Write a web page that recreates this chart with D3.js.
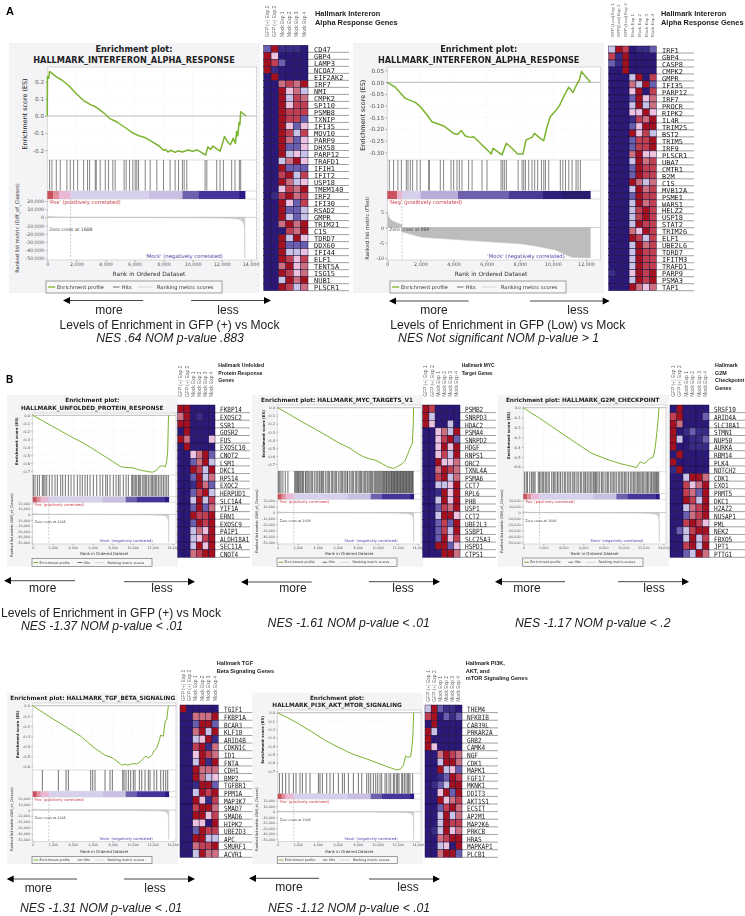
<!DOCTYPE html>
<html><head><meta charset="utf-8">
<script src="https://cdn.jsdelivr.net/npm/d3@7"></script>
<style>html,body{margin:0;padding:0;background:#fff}svg{display:block;filter:blur(.3px)}</style>
</head><body><svg id="c" width="745" height="916"></svg>
<script>
/* ---------- DATA ---------- */
const rankTicks=[0,2000,4000,6000,8000,10000,12000,14000];
const rankTicksA2=[0,2000,4000,6000,8000,10000,12000];
const metricTicks=[20000,10000,0,-10000,-20000,-30000,-40000,-50000];
const metricTicksA2=[5,0,-5,-10];
const colsPlus=["GFP (+) Exp 1","GFP (+) Exp 2","Mock Exp 1","Mock Exp 2","Mock Exp 3","Mock Exp 4"];
const colsLow=["GFP (Low) Exp 1","GFP(Low) Exp 2","GFP (Low) Exp 3","Mock Exp 1","Mock Exp 2","Mock Exp 3","Mock Exp 4"];
const heatLevels=[0,1,2,3,4,5,6,7];
const heatColors=["#2b1878","#382c88","#6a5eae","#c8c2e6","#ecc2de","#cc7080","#c03f50","#a5101f"];

const esA1=[[0,0],[10,.23],[100,.22],[150,.26],[300,.25],[600,.23],[1000,.21],[1500,.175],[2000,.13],[2500,.09],[3000,.065],[3300,.055],[3700,.03],[4000,.01],[4300,-.015],[4800,-.035],[5400,-.07],[5900,-.1],[6300,-.115],[6700,-.125],[7200,-.15],[7700,-.175],[8000,-.2],[8150,-.195],[8300,-.21],[8500,-.2],[8800,-.212],[9000,-.203],[9300,-.21],[9700,-.198],[10000,-.205],[10300,-.198],[10600,-.212],[10900,-.228],[11050,-.18],[11250,-.195],[11400,-.175],[11700,-.195],[11900,-.205],[12200,-.12],[12400,-.15],[12600,-.168],[12800,-.13],[12950,-.16],[13030,-.09],[13120,-.115],[13190,-.04],[13260,-.05],[13310,.025],[13680,0]];
const hitsA1=[160,320,620,890,1350,1580,1810,2090,2500,2770,2910,3300,3370,3640,3990,4210,4510,4670,5290,5430,5660,5890,6050,6160,6280,6740,7080,7540,8000,8450,8800,9030,9300,9420,9600,10860,10980,11660,11890,12120,12690,12920,13220,13310];
const metricA1=[[0,1800],[300,900],[1000,300],[1608,0],[6000,-200],[10000,-500],[12000,-900],[13000,-1800],[13300,-3000],[13500,-6500],[13570,-12000],[13600,-50000]];
const genesA1=["CD47","GBP4","LAMP3","NCOA7","EIF2AK2","IRF7","NMI","CMPK2","SP110","PSMB8","TXNIP","IFI35","MOV10","PARP9","DHX58","PARP12","TRAFD1","IFIH1","IFIT2","USP18","TMEM140","IRF2","IFI30","RSAD2","GMPR","TRIM21","C1S","TDRD7","DDX60","IFI44","ELF1","TENT5A","ISG15","NUB1","PLSCR1"];
const heatA1=["271110","740000","762000","710000","070000","005657","007453","007365","007466","007666","007662","007424","007636","007524","007224","007343","003574","007222","006736","007534","004657","016756","007426","007223","007323","005757","000657","007374","007222","007334","007646","005745","007645","003757","007635"];

const esA2=[[0,0],[483,-.021],[1088,-.069],[1692,-.086],[1994,-.104],[2397,-.14],[2699,-.169],[3404,-.187],[4008,-.219],[4270,-.223],[4471,-.207],[4713,-.23],[5015,-.236],[5217,-.233],[5619,-.261],[6284,-.307],[6385,-.283],[6727,-.3],[6928,-.311],[7190,-.261],[7432,-.276],[7875,-.307],[8197,-.307],[8379,-.247],[8741,-.236],[8882,-.219],[9245,-.24],[9446,-.25],[9648,-.19],[9849,-.147],[10111,-.126],[10393,-.101],[10654,-.061],[10956,-.021],[11218,-.044],[11359,-.021],[11601,.01],[11722,.046],[12266,0]];
const hitsA2=[120,380,640,850,1150,1250,1390,1530,1790,1990,2500,2540,3200,3400,3850,4010,4210,4350,4510,4910,5120,5720,6020,6870,6970,7070,7190,7900,8140,8240,8340,8540,8740,8900,9080,9310,9450,9550,9750,10450,10600,10760,10960,11160,11400,11520,11660];
const metricA2=[[0,6.2],[60,4],[150,3],[300,2.2],[600,1.5],[889,.9],[890,-1.5],[2095,-3.2],[5115,-4.3],[8136,-5.4],[9143,-6.3],[10150,-7.4],[11157,-9.8],[12266,-10]];
const genesA2=["IRF1","GBP4","CASP8","CMPK2","GMPR","IFI35","PARP12","IRF7","PROCR","RIPK2","IL4R","TRIM25","BST2","TRIM5","IRF9","PLSCR1","UBA7","CMTR1","B2M","C1S","MVB12A","PSME1","WARS1","HELZ2","USP18","STAT2","TRIM26","ELF1","UBE2L6","TDRD7","IFITM3","TRAFD1","PARP9","PSMA3","TAP1"];
const heatA2=["3760112","6170000","2170000","0070000","0003706","0005372","0004706","0002745","0003735","0004474","0001657","0002477","0007463","0002667","0002667","0005744","0003756","0002766","0002766","0007535","0003756","0002766","0003756","0003676","0003676","0003766","0005476","0007636","0003756","0003766","0003766","0003766","1004767","0003767","0007545"];

const esB1=[[0,0],[1000,-.07],[2000,-.14],[3000,-.21],[4000,-.28],[5000,-.345],[6000,-.42],[7000,-.5],[8000,-.58],[8800,-.645],[9300,-.655],[10000,-.66],[10500,-.68],[11000,-.695],[11600,-.71],[12000,-.715],[12400,-.69],[12700,-.64],[13000,-.635],[13250,-.65],[13400,-.58],[13500,-.45],[13580,0]];
const hitsB1=[67,233,467,667,967,1100,1233,1400,1667,1933,2233,2467,2800,3000,3267,3567,3833,4133,4467,4733,4967,5233,5467,5733,6067,6400,6733,7000,7300,7467,7733,8067,8333,8567,8733,9067,9333,9567,9900,10000,10133,10267,10400,10567,10667,10800,11000,11133,11267,11400,11567,11733,11900,12000,12133,12267,12400,12567,12733,12900,13067,13233,13400,13567];
const genesB1=["FKBP14","EXOSC2","SSR1","GOSR2","FUS","EXOSC10","CNOT2","LSM1","DKC1","RPS14","EXOC2","HERPUD1","SLC1A4","YIF1A","ERN1","EXOSC9","PAIP1","ALDH18A1","SEC11A","CNOT4"];
const heatB1=["770000","570100","770000","070000","750004","070000","004572","002573","007637","002735","001752","002673","003736","002725","007667","002767","003547","003467","003747","005677"];

const esB2=[[0,0],[1000,-.07],[2000,-.145],[3000,-.215],[3900,-.277],[5000,-.355],[6000,-.43],[7233,-.505],[8000,-.57],[8567,-.61],[9300,-.64],[9733,-.65],[10500,-.7],[11000,-.735],[11567,-.755],[12000,-.73],[12400,-.7],[12733,-.66],[13000,-.58],[13233,-.505],[13467,-.44],[13560,-.2],[13580,0]];
const hitsB2=[70,200,330,520,760,1020,1700,1800,1900,1990,2080,2200,2300,2420,2500,2600,2780,2850,3000,3120,3240,3400,3500,3700,3850,4000,4150,4240,4380,4500,4600,4800,4950,5100,5200,5400,5500,5650,5800,5900,6100,6250,6400,6500,6650,6800,6950,7000,7200,7350,7500,7600,7800,7900,8050,8200,8300,8400,8550,8700,8800,8950,9050,9200,9300,9400,9500,9650,9750,9850,9950,10050,10150,10250,10350,10450,10550,10620,10700,10800,10880,10950,11050,11120,11200,11300,11380,11450,11530,11600,11680,11750,11830,11900,11980,12050,12130,12200,12280,12350,12430,12500,12580,12650,12730,12800,12880,12950,13030,13100,13180,13250,13330,13400,13480,13550];
const genesB2=["PSMB2","SNRPD3","HDAC2","PSMA4","SNRPD2","HDGF","RNPS1","ORC2","TXNL4A","PSMA6","CCT7","RPL6","PHB","USP1","CCT2","UBE2L3","SSBP1","SLC25A3","HSPD1","CTPS1"];
const heatB2=["760000","730000","740030","004537","004672","004747","004637","007445","005765","006735","003347","001747","003747","002657","003774","002627","002637","002746","007724","000775"];

const esB3=[[0,0],[833,-.058],[1500,-.098],[3833,-.26],[5300,-.36],[6833,-.464],[8500,-.53],[9833,-.573],[10600,-.59],[11333,-.61],[11500,-.58],[11667,-.55],[11900,-.56],[12167,-.565],[12600,-.52],[13000,-.5],[13200,-.4],[13400,-.21],[13500,-.1],[13567,0]];
const hitsB3=[130,300,420,640,820,960,1060,1180,1500,1620,1760,1900,2030,2190,2300,2470,2600,2840,3000,3100,3260,3420,3560,3720,3900,4100,4200,4400,4560,4700,4900,5060,5160,5360,5500,5700,5800,6000,6150,6240,6400,6560,6700,6850,7000,7100,7230,7300,7460,7600,7800,7900,8060,8250,8400,8500,8700,8860,9000,9150,9300,9500,9640,9800,9940,10100,10200,10360,10520,10700,10850,11000,11100,11260,11400,11500,11640,11760,11900,12000,12160,12300,12420,12540,12700,12820,12960,13060,13160,13260,13340,13440,13540];
const genesB3=["SRSF10","ARID4A","SLC38A1","STMN1","NUP50","AURKA","RBM14","PLK4","NOTCH2","CDK1","EXO1","PRMT5","DKC1","H2AZ2","NUSAP1","PML","NEK2","FBXO5","JPT1","PTTG1"];
const heatB3=["070000","670002","750000","701211","730112","700111","070000","700000","170000","003775","006457","006527","007637","003567","002567","006764","023677","003736","006737","002375"];

const esB4=[[0,0],[1700,-.11],[3400,-.213],[4800,-.3],[6233,-.42],[7200,-.485],[8067,-.518],[8900,-.584],[9200,-.575],[9500,-.585],[10000,-.57],[10400,-.574],[10800,-.55],[11067,-.518],[11300,-.495],[11600,-.515],[11900,-.49],[12150,-.44],[12400,-.42],[12650,-.34],[12800,-.29],[13067,-.3],[13250,-.15],[13400,-.14],[13567,0]];
const hitsB4=[967,2567,3333,3567,5800,6000,6233,7233,7733,7967,9000,9133,9333,9567,9800,10067,10233,10667,10900,11233,11567,11733,12133,12400,12800,13067,13300,13500];
const genesB4=["TGIF1","FKBP1A","BCAR3","KLF10","ARID4B","CDKN1C","ID1","FNTA","CDH1","BMP2","TGFBR1","PPM1A","MAP3K7","SMAD7","SMAD6","HIPK2","UBE2D3","APC","SMURF1","ACVR1"];
const heatB4=["700000","005557","002772","005737","003471","006715","004765","003717","007555","007534","001772","003767","007416","006775","007746","004407","002766","007733","005667","003755"];

const esB5=[[0,0],[800,-.05],[1733,-.108],[3400,-.228],[4800,-.335],[6067,-.416],[7000,-.47],[7733,-.508],[8800,-.55],[10067,-.608],[11000,-.65],[11900,-.688],[12300,-.675],[12567,-.63],[12800,-.52],[13000,-.535],[13300,-.528],[13500,-.328],[13600,0]];
const hitsB5=[170,470,800,1130,1570,1830,2230,2470,2830,3230,4070,4230,4470,4900,5230,5570,6070,6470,6670,7070,7570,8070,8400,8900,9570,9800,10230,10730,11130,11570,11900,12130,12400,12670,12830,13000,13230,13500,9100,9300,10000,10400,10900,11300,11700,12000,12500,13100];
const genesB5=["THEM4","NFKBIB","CAB39L","PRKAR2A","GRB2","CAMK4","NGF","CDK1","MAPK1","FGF17","MKNK1","DDIT3","AKT1S1","ECSIT","AP2M1","MAP2K6","PRKCB","HRAS","MAPKAP1","PLCB1"];
const heatB5=["372110","670212","070000","730000","700000","740000","005765","003775","007342","001276","012377","004727","007456","002675","003735","003766","013745","005677","003407","005772"];

const barColorsPlus=["#c9525e","#e08f9c","#eab8d4","#d6d0ec","#c8bfe2","#6f60ae","#46349a","#2b1a86"];
const barEdgesPlus=[0,400,800,1600,7000,9300,10400,13200,13620];
const barColorsLow=["#c9525e","#e8b4cc","#d6d0ec","#b9acd9","#6f60ae","#4a3a98","#30207e","#2a1a70"];
const barEdgesLow=[0,580,890,2000,4270,7330,9400,10550,12270];

/* ---------- LAYOUT (pixels only) ---------- */
const panels=[
{title:["Enrichment plot:","HALLMARK_INTERFERON_ALPHA_RESPONSE"],hm:["Hallmark Intereron","Alpha Response Genes"],
 es:esA1,hits:hitsA1,metric:metricA1,genes:genesA1,heat:heatA1,cols:colsPlus,xTicks:rankTicks,xDom:[0,14000],xPx:[47.3,250.7],
 esDom:[.2,-.2],esPx:[81.7,150.3],esTicks:[.2,.1,0,-.1,-.2],esFmt:".1f",mDom:[20000,-50000],mPx:[201,258.3],mTicks:metricTicks,edges:barEdgesPlus,barC:barColorsPlus,
 zero:1608,mockRank:12070,posLab:"'Pos' (positively correlated)",metLab:"Ranked list metric (Diff_of_Classes)",
 bg:[9,43,260,293],right:256.6,top:67,hy:[160,190.5],by:[191,199],bottom:260,titleX:134,titleY:[51.5,62.8],k:1,
 xTitleY:276,yLabX:27,mLabX:18.5,mLabY:228,leg:[46,281,222,293],
 heatX:[263.7,308],heatY:[45.3,290.7],lineEnd:349,geneX:314,geneW:4.2,colY:37,hmX:315,hmY:[15.5,24.5],hmSize:7.4,
 arrL:[143,63,300.5],arrR:[191,271,300.5],moreX:109,lessX:228,wordY:314,capX:169.5,capY:329,nesX:170,nesY:342,nes:"NES .64 NOM p-value .883",cap:"Levels of Enrichment in GFP (+) vs Mock"},
{title:["Enrichment plot:","HALLMARK_INTERFERON_ALPHA_RESPONSE"],hm:["Hallmark Intereron","Alpha Response Genes"],
 es:esA2,hits:hitsA2,metric:metricA2,genes:genesA2,heat:heatA2,cols:colsLow,xTicks:rankTicksA2,xDom:[0,12000],xPx:[387.3,586],
 esDom:[0,-.3],esPx:[82.3,152.3],esTicks:[.05,0,-.05,-.1,-.15,-.2,-.25,-.3],esFmt:".2f",mDom:[5,-10],mPx:[212.3,258],mTicks:metricTicksA2,edges:barEdgesLow,barC:barColorsLow,
 zero:889,mockRank:10713,posLab:"'Neg' (positively correlated)",metLab:"Ranked list metric (fTest)",
 bg:[353,43,604,293],right:600.7,top:67,hy:[160,190.5],by:[191,199],bottom:260,titleX:478.7,titleY:[51.5,62.8],k:1,
 xTitleY:276,yLabX:365,mLabX:369,mLabY:228,leg:[390,281,566,293],
 heatX:[608.7,656.3],heatY:[46,290.7],lineEnd:694,geneX:662,geneW:4.2,colY:37,hmX:661,hmY:[15.5,24.5],hmSize:7.4,
 arrL:[468.7,389,301],arrR:[530,609.7,301],moreX:434,lessX:578,wordY:314,capX:507.7,capY:329,nesX:498.5,nesY:342,nes:"NES Not significant NOM p-value > 1",cap:"Levels of Enrichment in GFP (Low) vs Mock"},
{title:["Enrichment plot:","HALLMARK_UNFOLDED_PROTEIN_RESPONSE"],hm:["Hallmark Unfolded","Protein Response","Genes"],
 es:esB1,hits:hitsB1,metric:metricA1,genes:genesB1,heat:heatB1,cols:colsPlus,xTicks:rankTicks,xDom:[0,14000],xPx:[32.7,172.7],
 esDom:[0,-.7],esPx:[415.3,471],esTicks:[0,-.1,-.2,-.3,-.4,-.5,-.6,-.7],esFmt:".1f",mDom:[20000,-50000],mPx:[503.3,542.3],mTicks:metricTicks,edges:barEdgesPlus,barC:barColorsPlus,
 zero:1608,mockRank:12000,posLab:"'Pos' (positively correlated)",metLab:"Ranked list metric (Diff_of_Classes)",
 bg:[7,395,178,566.7],right:176,top:413,hy:[475,496],by:[496.7,502.3],bottom:544,titleX:92.3,titleY:[401.8,409.5],k:.69,
 xTitleY:555,yLabX:18,mLabX:13,mLabY:525,leg:[32,558.5,152,566.5],
 heatX:[177.7,215],heatY:[405,557.3],lineEnd:250,geneX:220,geneW:3.65,colY:397,hmX:218.3,hmY:[367,374.5,382],hmSize:5.2,
 arrL:[75,4,580.7],arrR:[124,195,581.7],moreX:42.7,lessX:162,wordY:591.7,capX:111,capY:616.7,nesX:102,nesY:630,nes:"NES -1.37 NOM p-value < .01",cap:"Levels of Enrichment in GFP (+) vs Mock"},
{title:["Enrichment plot: HALLMARK_MYC_TARGETS_V1"],hm:["Hallmark MYC","Target Genes"],
 es:esB2,hits:hitsB2,metric:metricA1,genes:genesB2,heat:heatB2,cols:colsPlus,xTicks:rankTicks,xDom:[0,14000],xPx:[277.7,417.7],
 esDom:[0,-.7],esPx:[407.7,464],esTicks:[0,-.1,-.2,-.3,-.4,-.5,-.6,-.7],esFmt:".1f",mDom:[20000,-50000],mPx:[500.7,542.3],mTicks:metricTicks,edges:barEdgesPlus,barC:barColorsPlus,
 zero:1608,mockRank:12000,posLab:"'Pos' (positively correlated)",metLab:"Ranked list metric (Diff_of_Classes)",
 bg:[252,395,423,566.7],right:421,top:405,hy:[471,493],by:[493.7,499.3],bottom:544,titleX:337,titleY:[401.8],k:.69,
 xTitleY:555,yLabX:265,mLabX:258,mLabY:521,leg:[277,558,397,566.5],
 heatX:[422.7,460],heatY:[405,557.3],lineEnd:496,geneX:465,geneW:3.65,colY:396.7,hmX:461.7,hmY:[367,374.5],hmSize:4.9,
 arrL:[311.7,241,582],arrR:[369,440,581.7],moreX:293,lessX:403,wordY:591.7,nesX:348.7,nesY:627,nes:"NES -1.61 NOM p-value < .01"},
{title:["Enrichment plot: HALLMARK_G2M_CHECKPOINT"],hm:["Hallmark","G2M","Checkpoint","Genes"],
 es:esB3,hits:hitsB3,metric:metricA1,genes:genesB3,heat:heatB3,cols:colsPlus,xTicks:rankTicks,xDom:[0,14000],xPx:[523.3,663.3],
 esDom:[0,-.6],esPx:[407.7,466.7],esTicks:[0,-.1,-.2,-.3,-.4,-.5,-.6],esFmt:".1f",mDom:[20000,-50000],mPx:[500.7,542.3],mTicks:metricTicks,edges:barEdgesPlus,barC:barColorsPlus,
 zero:1608,mockRank:12000,posLab:"'Pos' (positively correlated)",metLab:"Ranked list metric (Diff_of_Classes)",
 bg:[497.7,395,669,566.7],right:666,top:405,hy:[471.7,493],by:[493.7,499.3],bottom:544,titleX:582.7,titleY:[401.8],k:.69,
 xTitleY:555,yLabX:510,mLabX:503,mLabY:521,leg:[522.7,558,643,566.5],
 heatX:[670,709],heatY:[405,557.3],lineEnd:745,geneX:714,geneW:3.65,colY:396.7,hmX:715,hmY:[367,374.5,382,389.5],hmSize:5.4,
 arrL:[565,495,581.7],arrR:[618,689,581.7],moreX:527,lessX:654,wordY:591.7,nesX:592.7,nesY:627,nes:"NES -1.17 NOM p-value < .2"},
{title:["Enrichment plot: HALLMARK_TGF_BETA_SIGNALING"],hm:["Hallmark TGF","Beta Signaling Genes"],
 es:esB4,hits:hitsB4,metric:metricA1,genes:genesB4,heat:heatB4,cols:colsPlus,xTicks:rankTicks,xDom:[0,14000],xPx:[32.7,172.7],
 esDom:[0,-.6],esPx:[705.7,766.7],esTicks:[0,-.1,-.2,-.3,-.4,-.5,-.6],esFmt:".1f",mDom:[20000,-50000],mPx:[798.3,839.3],mTicks:metricTicks,edges:barEdgesPlus,barC:barColorsPlus,
 zero:1608,mockRank:12000,posLab:"'Pos' (positively correlated)",metLab:"Ranked list metric (Diff_of_Classes)",
 bg:[7,692.7,178,864],right:176,top:703,hy:[770,790.7],by:[791.3,797],bottom:841.7,titleX:92.7,titleY:[699.5],k:.69,
 xTitleY:853,yLabX:19,mLabX:13,mLabY:819,leg:[32,856.5,152,863.5],
 heatX:[180,218.3],heatY:[705,857.3],lineEnd:253,geneX:224,geneW:3.65,colY:701,hmX:216.7,hmY:[665,672.7],hmSize:5.6,
 arrL:[77,6.7,879],arrR:[124,195,879],moreX:38.3,lessX:155,wordY:892,nesX:101,nesY:911.7,nes:"NES -1.31 NOM p-value < .01"},
{title:["Enrichment plot:","HALLMARK_PI3K_AKT_MTOR_SIGNALING"],hm:["Hallmark PI3K,","AKT, and","mTOR Signaling Genes"],
 es:esB5,hits:hitsB5,metric:metricA1,genes:genesB5,heat:heatB5,cols:colsPlus,xTicks:rankTicks,xDom:[0,14000],xPx:[277.7,417.7],
 esDom:[0,-.7],esPx:[712.7,771],esTicks:[0,-.1,-.2,-.3,-.4,-.5,-.6,-.7],esFmt:".1f",mDom:[20000,-50000],mPx:[800.7,839.3],mTicks:metricTicks,edges:barEdgesPlus,barC:barColorsPlus,
 zero:1608,mockRank:12000,posLab:"'Pos' (positively correlated)",metLab:"Ranked list metric (Diff_of_Classes)",
 bg:[252.3,692.7,423,864],right:421,top:710,hy:[773.3,793.5],by:[793.7,799],bottom:841.7,titleX:337,titleY:[699.5,707.2],k:.69,
 xTitleY:853,yLabX:264,mLabX:258,mLabY:819,leg:[277.3,856.5,397.3,863.5],
 heatX:[425,462],heatY:[705,857.3],lineEnd:498,geneX:467,geneW:3.65,colY:701.7,hmX:465.7,hmY:[665,672.7,680],hmSize:5.6,
 arrL:[319,249,878.3],arrR:[369,440,879],moreX:289,lessX:408,wordY:890.7,nesX:349,nesY:911.7,nes:"NES -1.12 NOM p-value < .01"}
];

/* ---------- DRAW ---------- */
const UI="'DejaVu Sans',sans-serif",CAP="'Liberation Sans',Arial,sans-serif",MONO="'DejaVu Sans Mono',monospace";
const svg=d3.select("#c");
const heatColor=d3.scaleOrdinal(heatLevels,heatColors);
const fmtMinus=f=>v=>d3.format(f)(v).replace("\u2212","-");
let clipN=0;
const txt=(g,x,y,s,o={})=>g.append("text").attr("x",x).attr("y",y).text(s)
  .attr("font-family",o.ff||UI).attr("font-size",o.fs||6).attr("fill",o.fill||"#222")
  .attr("font-weight",o.fw||null).attr("font-style",o.fi||null).attr("text-anchor",o.a||"start");
function styleAxis(g,fs){
  g.selectAll("text").attr("font-family",UI).attr("font-size",fs).attr("fill","#555");
  g.selectAll("line").attr("stroke","#888").attr("stroke-width",.6);
  g.select(".domain").attr("stroke","none");
}
panels.forEach(p=>{
  const small=p.k<1,g=svg.append("g");
  const L=p.xPx[0],R=p.right;
  g.append("rect").attr("x",p.bg[0]).attr("y",p.bg[1]).attr("width",p.bg[2]-p.bg[0]).attr("height",p.bg[3]-p.bg[1]).attr("fill","#f4f4f7");
  g.append("rect").attr("x",L).attr("y",p.top).attr("width",R-L).attr("height",p.bottom-p.top).attr("fill","#fff").attr("stroke","#cfcfcf").attr("stroke-width",.8);
  p.title.forEach((t,i)=>txt(g,p.titleX,p.titleY[i],t,{fs:small?5.75:8.2,fw:"bold",a:"middle",fill:"#222"}));
  const x=d3.scaleLinear().domain(p.xDom).range(p.xPx);
  const y=d3.scaleLinear().domain(p.esDom).range(p.esPx);
  const m=d3.scaleLinear().domain(p.mDom).range(p.mPx);
  const cid="clip"+(clipN++);
  svg.append("clipPath").attr("id",cid).append("rect").attr("x",L).attr("y",p.by[1]).attr("width",R-L).attr("height",p.bottom-p.by[1]);
  // grid
  g.selectAll(null).data(p.xTicks).join("line").attr("x1",d=>x(d)).attr("x2",d=>x(d)).attr("y1",p.top).attr("y2",p.hy[0]).attr("stroke","#e8e8e8").attr("stroke-width",.5).attr("stroke-dasharray","1,1.5");
  g.selectAll(null).data(p.esTicks).join("line").attr("x1",L).attr("x2",R).attr("y1",d=>y(d)).attr("y2",d=>y(d)).attr("stroke",d=>d===0?"#bbb":"#e8e8e8").attr("stroke-width",d=>d===0?1:.5).attr("stroke-dasharray",d=>d===0?null:"1,1.5");
  // ES line
  g.append("path").datum(p.es).attr("d",d3.line().x(d=>x(d[0])).y(d=>y(d[1]))).attr("fill","none").attr("stroke","#7bb32e").attr("stroke-width",small?1:1.5).attr("stroke-linejoin","round");
  // panel separators
  g.selectAll(null).data([p.hy[0],p.by[0],p.by[1]]).join("line").attr("x1",L).attr("x2",R).attr("y1",d=>d).attr("y2",d=>d).attr("stroke","#cfcfcf").attr("stroke-width",.7);
  // hits
  g.selectAll(null).data(p.hits).join("line").attr("x1",d=>x(d)).attr("x2",d=>x(d)).attr("y1",p.hy[0]).attr("y2",p.hy[1]).attr("stroke","#222").attr("stroke-opacity",small?.6:.65).attr("stroke-width",small?1.05:.85);
  // colour bar
  g.selectAll(null).data(p.barC).join("rect").attr("x",(d,i)=>x(p.edges[i])).attr("width",(d,i)=>x(p.edges[i+1])-x(p.edges[i])+.2).attr("y",p.by[0]).attr("height",p.by[1]-p.by[0]).attr("fill",d=>d);
  // metric
  g.append("path").datum(p.metric).attr("clip-path",`url(#${cid})`).attr("d",d3.area().x(d=>x(d[0])).y0(m(0)).y1(d=>m(d[1]))).attr("fill","#bdbdbd").attr("fill-opacity",p.mDom[0]===5?1:.75).attr("stroke","#ccc").attr("stroke-width",.6);
  g.append("line").attr("x1",L).attr("x2",R).attr("y1",m(0)).attr("y2",m(0)).attr("stroke","#bbb").attr("stroke-width",.7);
  g.append("line").attr("x1",x(p.zero)).attr("x2",x(p.zero)).attr("y1",p.by[1]).attr("y2",p.bottom).attr("stroke","#aaa").attr("stroke-width",.6).attr("stroke-dasharray","2,1.5");
  txt(g,L+2,m(0)+(p.mDom[0]===5?3:(small?9:13.3)),`Zero cross at ${p.zero}`,{fs:small?3.3:4.6,fill:"#444"});
  txt(g,L+1.5,p.by[1]+(small?3.8:5),p.posLab,{fs:small?3.7:5.3,fill:"#c63a48"});
  txt(g,x(p.mockRank),p.bottom-(small?1.6:2.2),"'Mock' (negatively correlated)",{fs:small?3.6:5.2,fill:"#4a3aa8",a:"end"});
  // axes
  const ga=g.append("g").attr("transform",`translate(${L},0)`).call(d3.axisLeft(y).tickValues(p.esTicks).tickFormat(fmtMinus(p.esFmt)).tickSize(small?1.4:2).tickPadding(1.3));styleAxis(ga,small?3.7:5.6);
  const gm=g.append("g").attr("transform",`translate(${L},0)`).call(d3.axisLeft(m).tickValues(p.mTicks).tickFormat(fmtMinus(",")).tickSize(small?1.4:2).tickPadding(1.3));styleAxis(gm,small?3.3:4.8);
  const gx=g.append("g").attr("transform",`translate(0,${p.bottom})`).call(d3.axisBottom(x).tickValues(p.xTicks).tickFormat(fmtMinus(",")).tickSize(small?1.4:2).tickPadding(1));styleAxis(gx,small?3.3:4.8);
  txt(g,(L+R)/2-(small?0:3),p.xTitleY,"Rank in Ordered Dataset",{fs:small?3.9:5.9,a:"middle",fill:"#333"});
  g.append("text").attr("transform",`translate(${p.yLabX},${(p.esPx[0]+p.esPx[1])/2-2}) rotate(-90)`).attr("text-anchor","middle").attr("font-family",UI).attr("font-size",small?3.8:6.4).attr("font-weight",small?"bold":null).attr("fill","#222").text("Enrichment score (ES)");
  g.append("text").attr("transform",`translate(${p.mLabX},${p.mLabY}) rotate(-90)`).attr("text-anchor","middle").attr("font-family",UI).attr("font-size",small?3.6:5.1).attr("fill","#333").text(p.metLab);
  // legend
  const [lx0,ly0,lx1,ly1]=p.leg,ly=(ly0+ly1)/2,lfs=small?3.3:5.1;
  g.append("rect").attr("x",lx0).attr("y",ly0).attr("width",lx1-lx0).attr("height",ly1-ly0).attr("fill","#f7f7f9").attr("stroke","#777").attr("stroke-width",.7);
  const lx=d3.scaleLinear().domain([0,1]).range([lx0,lx1]);
  g.append("line").attr("x1",lx(.012)).attr("x2",lx(.052)).attr("y1",ly).attr("y2",ly).attr("stroke","#7bb32e").attr("stroke-width",small?1:1.3);
  txt(g,lx(.062),ly+lfs*.36,"Enrichment profile",{fs:lfs,fill:"#333"});
  g.append("line").attr("x1",lx(.38)).attr("x2",lx(.418)).attr("y1",ly).attr("y2",ly).attr("stroke","#333").attr("stroke-width",.7);
  txt(g,lx(.43),ly+lfs*.36,"Hits",{fs:lfs,fill:"#333"});
  g.append("line").attr("x1",lx(.525)).attr("x2",lx(.605)).attr("y1",ly).attr("y2",ly).attr("stroke","#ccc").attr("stroke-width",.8);
  txt(g,lx(.63),ly+lfs*.36,"Ranking metric scores",{fs:lfs,fill:"#333"});
  // heat map
  const cx=d3.scaleBand().domain(p.cols).range(p.heatX);
  const ry=d3.scaleBand().domain(p.genes.map((d,i)=>i)).range(p.heatY);
  p.genes.forEach((gene,i)=>{
    const yy=ry(i)+ry.bandwidth();
    g.append("line").attr("x1",p.heatX[1]).attr("x2",p.lineEnd).attr("y1",yy).attr("y2",yy).attr("stroke","#777").attr("stroke-width",.7);
    g.append("text").attr("x",p.geneX).attr("y",yy-.3).attr("font-family",MONO).attr("font-size",small?7.2:6.8).attr("fill","#222")
      .attr("textLength",gene.length*p.geneW).attr("lengthAdjust","spacingAndGlyphs").text(gene);
    g.selectAll(null).data(Array.from(p.heat[i],Number)).join("rect")
      .attr("x",(d,j)=>cx(p.cols[j])).attr("y",ry(i)).attr("width",cx.bandwidth()).attr("height",ry.bandwidth())
      .attr("fill",d=>heatColor(d)).attr("stroke","#140c38").attr("stroke-width",.45);
  });
  p.cols.forEach(c=>g.append("text").attr("transform",`translate(${cx(c)+cx.bandwidth()/2+1.5},${p.colY}) rotate(-90)`).attr("font-family",CAP).attr("font-size",p.cols.length>6?4.4:4.9).attr("fill","#666").text(c));
  p.hm.forEach((t,i)=>txt(g,p.hmX,p.hmY[i],t,{ff:CAP,fs:p.hmSize,fw:"bold",fill:"#222"}));
  // arrows
  [p.arrL,p.arrR].forEach(a=>{
    const dir=a[1]>a[0]?1:-1;
    g.append("line").attr("x1",a[0]).attr("x2",a[1]-dir*5).attr("y1",a[2]).attr("y2",a[2]).attr("stroke","#333").attr("stroke-width",.9);
    g.append("path").attr("d",d3.line()([[a[1],a[2]],[a[1]-dir*7,a[2]-3.6],[a[1]-dir*7,a[2]+3.6]])+"Z").attr("fill","#000");
  });
  txt(g,p.moreX,p.wordY,"more",{ff:CAP,fs:12,a:"middle",fill:"#222"});
  txt(g,p.lessX,p.wordY,"less",{ff:CAP,fs:12,a:"middle",fill:"#222"});
  if(p.cap) txt(g,p.capX,p.capY,p.cap,{ff:CAP,fs:12.1,a:"middle",fill:"#222"});
  txt(g,p.nesX,p.nesY,p.nes,{ff:CAP,fs:12.2,fi:"italic",a:"middle",fill:"#222"});
});
txt(svg,6,15,"A",{ff:CAP,fs:11,fw:"bold",fill:"#000"});
txt(svg,6,383,"B",{ff:CAP,fs:10,fw:"bold",fill:"#000"});
</script></body></html>
